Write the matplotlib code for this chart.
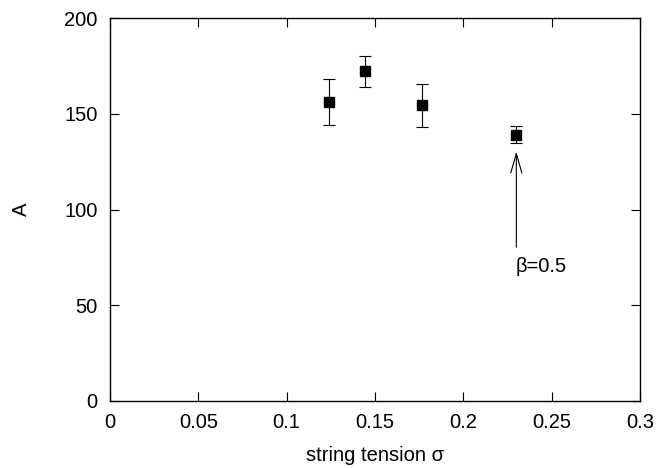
import matplotlib
matplotlib.use("Agg")
import matplotlib.pyplot as plt

plt.rcParams["font.family"] = ["Liberation Sans", "DejaVu Sans"]

# ── Data ─────────────────────────────────────────────────────────────────────
sigma   = [0.124, 0.1445, 0.1765, 0.230]
A_val   = [156.0, 172.2, 154.5, 139.0]
A_err   = [11.9, 8.1, 11.2, 4.4]

arrow_x     = 0.230
arrow_tip   = 130.3
arrow_base  = 80.3
label_y     = 70.2
label_text  = "β=0.5"

FS = 14.5

fig = plt.figure(figsize=(6.58, 4.68), dpi=100)
ax = fig.add_axes([0.1672, 0.1432, 0.8054, 0.8183])

ax.errorbar(sigma, A_val, yerr=A_err, fmt="s", color="black", ms=7,
            elinewidth=0.8, capsize=4, capthick=0.8)

ax.annotate("", xy=(arrow_x, arrow_tip), xytext=(arrow_x, arrow_base),
            arrowprops=dict(arrowstyle="->,head_length=1.4,head_width=0.4",
                            mutation_scale=10, lw=0.8, color="black",
                            shrinkA=0, shrinkB=0))
ax.text(arrow_x - 0.0005, label_y, label_text, fontsize=FS, va="center", ha="left")

ax.set_xlim(0, 0.3)
ax.set_ylim(0, 200)
ax.set_xticks([0, 0.05, 0.1, 0.15, 0.2, 0.25, 0.3])
ax.set_xticklabels(["0", "0.05", "0.1", "0.15", "0.2", "0.25", "0.3"])
ax.set_yticks([0, 50, 100, 150, 200])
ax.tick_params(direction="in", length=6.5, width=0.8, top=True, right=True,
               labelsize=FS, pad=9)
for s in ax.spines.values():
    s.set_linewidth(1.0)

ax.set_xlabel("string tension σ", fontsize=FS, labelpad=10)
ax.set_ylabel("A", fontsize=FS, labelpad=24)

fig.savefig("out.png", dpi=100)
